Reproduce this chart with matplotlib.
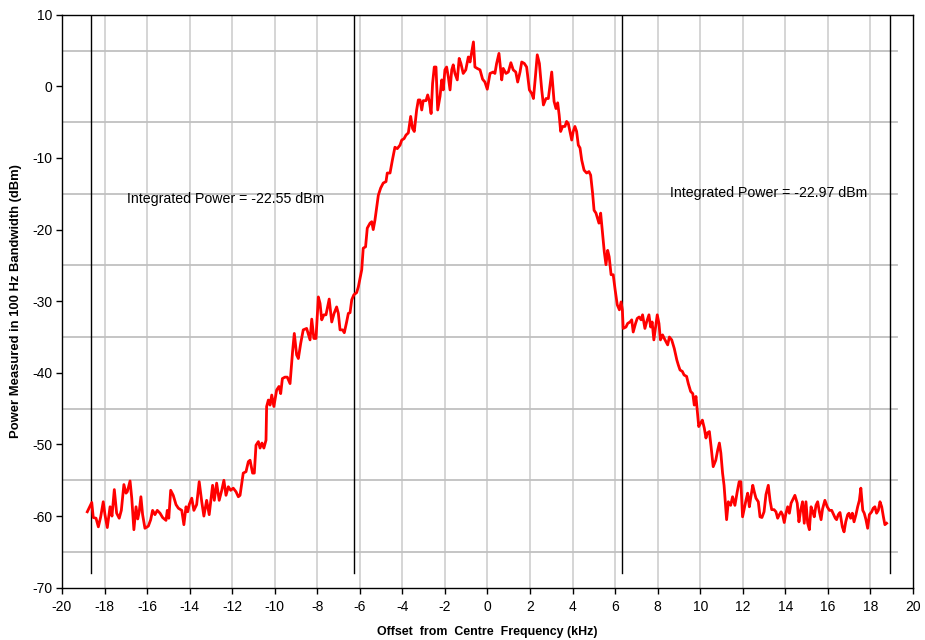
import matplotlib
matplotlib.use("Agg")
import matplotlib.pyplot as plt

plt.rcParams['font.family'] = ['Liberation Sans', 'DejaVu Sans']
plt.rcParams['axes.unicode_minus'] = False

freq_khz = [
    -18.81, -18.60, -18.53, -18.40, -18.29, -18.18, -18.06, -17.98, -17.87, -17.74,
    -17.65, -17.54, -17.43, -17.31, -17.21, -17.09, -16.99, -16.93, -16.80, -16.72,
    -16.62, -16.52, -16.44, -16.37, -16.29, -16.21, -16.10, -15.94, -15.83, -15.74,
    -15.63, -15.52, -15.39, -15.27, -15.11, -15.05, -14.98, -14.89, -14.77, -14.64,
    -14.53, -14.37, -14.27, -14.17, -14.09, -14.02, -13.90, -13.80, -13.67, -13.55,
    -13.43, -13.33, -13.20, -13.08, -12.92, -12.84, -12.73, -12.61, -12.49, -12.39,
    -12.29, -12.18, -12.07, -11.95, -11.82, -11.71, -11.63, -11.48, -11.35, -11.24,
    -11.16, -11.04, -10.96, -10.88, -10.77, -10.69, -10.60, -10.51, -10.41,
    -10.38, -10.30, -10.22, -10.14, -10.04, -9.91, -9.80, -9.72, -9.64, -9.52,
    -9.41, -9.28, -9.16, -9.08, -8.97, -8.89, -8.78, -8.66, -8.50, -8.34,
    -8.26, -8.16, -8.06, -7.95, -7.87, -7.79, -7.69, -7.59, -7.44, -7.32,
    -7.21, -7.09, -7.01, -6.93, -6.81, -6.73, -6.62, -6.54, -6.46, -6.38,
    -6.28, -6.15, -6.07,
    -5.91, -5.84, -5.73, -5.65, -5.52, -5.44, -5.37, -5.29, -5.13, -5.02,
    -4.90, -4.77, -4.71, -4.58, -4.47, -4.35, -4.24, -4.11, -4.03, -3.92,
    -3.83, -3.72, -3.61, -3.52, -3.44, -3.33, -3.25, -3.17, -3.09, -3.02,
    -2.89, -2.81, -2.73, -2.65, -2.58, -2.50, -2.42, -2.34, -2.23, -2.15,
    -2.08, -2.00, -1.92, -1.84, -1.76, -1.68, -1.61, -1.53, -1.42, -1.33,
    -1.25, -1.14, -1.02, -0.90, -0.82, -0.74, -0.66, -0.59, -0.48, -0.35,
    -0.23, -0.12, -0.01, 0.12, 0.27, 0.35,
    0.43, 0.54, 0.67, 0.74, 0.87, 0.98, 1.10, 1.21, 1.33, 1.42,
    1.53, 1.61, 1.73, 1.84, 1.97, 2.08, 2.16, 2.24, 2.34, 2.44,
    2.55, 2.63, 2.75, 2.86, 3.02, 3.13, 3.22, 3.30, 3.37, 3.44,
    3.53, 3.64, 3.72, 3.80, 3.96, 4.03, 4.11, 4.19, 4.27, 4.35,
    4.43, 4.54, 4.66, 4.77, 4.85, 4.94, 5.01, 5.10, 5.24, 5.32,
    5.41, 5.49, 5.57, 5.65, 5.72, 5.81, 5.91, 6.00,
    6.10, 6.20, 6.28, 6.34, 6.38, 6.51, 6.59, 6.70, 6.78, 6.85,
    6.96, 7.04, 7.13, 7.22, 7.29, 7.40, 7.48, 7.59, 7.67, 7.74,
    7.82, 7.90, 7.98, 8.06, 8.13, 8.23, 8.31, 8.47, 8.55, 8.66,
    8.78, 8.90, 8.97, 9.05, 9.16, 9.24, 9.36, 9.44, 9.55, 9.65,
    9.72, 9.80, 9.86, 9.93, 10.02, 10.10, 10.19, 10.27, 10.33, 10.43,
    10.51, 10.61, 10.73, 10.82, 10.90, 10.97,
    11.05, 11.12, 11.24, 11.32, 11.43, 11.52, 11.63, 11.74, 11.83, 11.91,
    11.99, 12.15, 12.23, 12.31, 12.37, 12.47, 12.54, 12.62, 12.73, 12.81,
    12.90, 13.00, 13.09, 13.20, 13.28, 13.36, 13.47, 13.56, 13.64, 13.72,
    13.80, 13.87, 13.95, 14.03, 14.11, 14.19, 14.27, 14.45, 14.56, 14.64,
    14.72, 14.81, 14.89, 14.97, 15.05, 15.13, 15.21, 15.29, 15.36, 15.44,
    15.52, 15.60, 15.68, 15.75, 15.86, 15.97, 16.07, 16.18, 16.35, 16.41,
    16.49, 16.57, 16.68, 16.76, 16.84, 16.93, 16.99, 17.07, 17.15, 17.23,
    17.32, 17.40, 17.48, 17.55, 17.64, 17.71, 17.79, 17.87, 17.95, 18.06,
    18.13, 18.21, 18.29, 18.37, 18.45, 18.53, 18.61, 18.68, 18.76,
]

power_dbm = [
    -59.4, -58.1, -60.2, -60.3, -61.5, -60.1, -58.0, -59.8, -61.6, -58.7,
    -60.0, -56.3, -59.6, -60.3, -59.2, -55.6, -56.8, -56.6, -55.1, -57.5,
    -61.9, -58.7, -60.4, -59.4, -57.3, -59.8, -61.7, -61.4, -60.5, -59.2,
    -59.8, -59.2, -59.6, -60.2, -60.6, -59.2, -60.3, -56.4, -57.1, -58.4,
    -58.9, -59.2, -61.2, -58.7, -59.4, -58.4, -57.5, -59.2, -58.4, -55.2,
    -58.0, -60.0, -57.8, -59.8, -55.7, -57.8, -55.4, -57.8, -56.4, -55.0,
    -57.1, -55.9, -56.4, -56.1, -56.6, -57.3, -57.1, -54.0, -53.8, -52.4,
    -52.2, -54.0, -54.0, -50.1, -49.6, -50.5, -49.8, -50.5, -49.4,
    -44.7, -43.8, -44.5, -43.1, -44.7, -42.4, -41.9, -42.9, -40.8, -40.6,
    -40.6, -41.5, -37.0, -34.5, -37.5, -38.0, -35.9, -34.0, -33.8, -35.4,
    -32.5, -35.2, -35.2, -29.4, -30.3, -32.6, -31.9, -31.9, -29.7, -32.9,
    -31.7, -30.8, -31.7, -34.0, -34.0, -34.4, -32.9, -31.7, -31.6, -29.8,
    -29.1, -28.8, -28.0,
    -25.6, -22.6, -22.4, -19.8, -19.1, -18.9, -20.0, -18.7, -15.2, -14.2,
    -13.5, -13.3, -12.1, -12.1, -10.3, -8.5, -8.7, -8.2, -7.5, -7.3,
    -6.8, -6.5, -4.2, -5.9, -6.3, -3.3, -1.9, -1.9, -3.3, -2.0,
    -2.0, -1.2, -2.1, -3.8, 0.4, 2.7, 2.7, -3.3, -1.4, 0.9,
    -0.5, 2.3, 2.7, 1.3, -0.5, 2.3, 3.0, 1.8, 0.9, 3.9,
    3.2, 1.8, 2.3, 4.1, 3.4, 4.8, 6.2, 2.7, 2.5, 2.3,
    1.0, 0.6, -0.4, 1.8, 2.0, 1.8,
    3.2, 4.6, 0.9, 2.5, 1.8, 2.0, 3.3, 2.3, 2.0, 0.6,
    2.0, 3.4, 3.2, 2.7, -0.5, -1.0, -1.7, 0.9, 4.4, 3.2,
    -0.5, -2.6, -1.7, -1.7, 2.0, -2.1, -3.1, -2.3, -4.0, -6.3,
    -5.6, -5.6, -4.9, -5.2, -7.5, -6.3, -5.6, -6.3, -8.2, -8.6,
    -10.3, -11.7, -12.1, -11.9, -12.4, -14.9, -17.3, -17.7, -19.1, -17.7,
    -20.5, -23.1, -24.9, -22.9, -23.8, -26.3, -26.3, -28.4,
    -30.5, -31.2, -30.1, -31.2, -33.8, -33.6, -33.1, -32.9, -32.6, -34.3,
    -33.1, -32.4, -32.2, -32.6, -31.9, -33.8, -32.9, -31.9, -33.6, -32.9,
    -35.4, -33.6, -31.9, -33.1, -35.4, -34.7, -35.2, -36.1, -35.0, -35.4,
    -36.6, -38.2, -38.9, -39.6, -39.8, -40.3, -40.5, -41.5, -42.6, -42.9,
    -44.5, -43.3, -45.2, -47.5, -47.0, -46.6, -47.7, -49.1, -48.4, -48.2,
    -50.3, -53.1, -52.2, -50.8, -49.8, -51.2,
    -54.0, -55.7, -60.5, -58.0, -58.5, -57.3, -58.5, -56.6, -55.2, -55.2,
    -60.1, -57.8, -56.8, -58.7, -57.5, -55.7, -56.6, -57.5, -58.0, -60.1,
    -60.2, -59.4, -57.0, -55.7, -57.8, -59.1, -59.1, -59.4, -60.3, -59.8,
    -59.4, -59.8, -60.9, -59.6, -58.7, -59.6, -58.2, -57.1, -58.2, -60.8,
    -59.2, -58.0, -61.0, -58.0, -61.0, -61.9, -58.7, -59.4, -60.1, -58.5,
    -58.0, -59.4, -60.5, -59.0, -57.8, -58.7, -59.2, -59.2, -60.3, -60.5,
    -59.8, -59.5, -61.5, -62.2, -60.8, -59.8, -59.6, -60.3, -59.6, -60.8,
    -59.8, -58.7, -57.8, -56.1, -59.2, -59.6, -60.5, -61.7, -59.8, -59.4,
    -58.9, -58.7, -59.6, -59.2, -58.0, -58.7, -60.1, -61.2, -61.0,
]

marker_x = [-18.64, -6.26, 6.31, 18.93]
annotations = [
    (-16.94, -15.7, "Integrated Power = -22.55 dBm"),
    (8.58, -14.9, "Integrated Power = -22.97 dBm"),
]
x_ticks = list(range(-20, 21, 2))
y_ticks = list(range(-70, 11, 10))
h_grid = [5, -5, -15, -25, -35, -45, -55, -65]
v_grid = list(range(-18, 19, 2))

fig = plt.figure(figsize=(9.25, 6.4), dpi=100)
ax = fig.add_axes([0.0670, 0.0817, 0.9200, 0.8953])
ax.set_xlim(-20, 20)
ax.set_ylim(-70, 10)

for v in v_grid:
    ax.axvline(v, color='#d2d2d2', lw=1.3, zorder=0)
for h in h_grid:
    ax.plot([-20, 19.25], [h, h], color='#c0c0c0', lw=1.3, zorder=1)
for m in marker_x:
    ax.plot([m, m], [10, -68], color='black', lw=1.0, zorder=2)

ax.plot(freq_khz, power_dbm, color='#ff0000', lw=2.0, zorder=3)

for x, y, t in annotations:
    ax.text(x, y, t, fontsize=10.2, ha='left', va='center', color='black', zorder=4)

ax.set_xticks(x_ticks)
ax.set_yticks(y_ticks)
ax.set_xticklabels([str(v) for v in x_ticks])
ax.set_yticklabels([str(v) for v in y_ticks])
ax.tick_params(axis='both', direction='out', length=4, width=1, labelsize=10, pad=3)
ax.tick_params(axis='x', pad=5)
for s in ax.spines.values():
    s.set_linewidth(1.0)
    s.set_color('black')

fig.text(0.5265, 1 - 632/640, "Offset  from  Centre  Frequency (kHz)", ha='center', va='center',
         fontsize=8.9, fontweight='bold')
fig.text(16/925, 1 - 301/640, "Power Measured in 100 Hz Bandwidth (dBm)", ha='center', va='center',
         rotation=90, fontsize=9.4, fontweight='bold')

fig.savefig("out.png", dpi=100)
